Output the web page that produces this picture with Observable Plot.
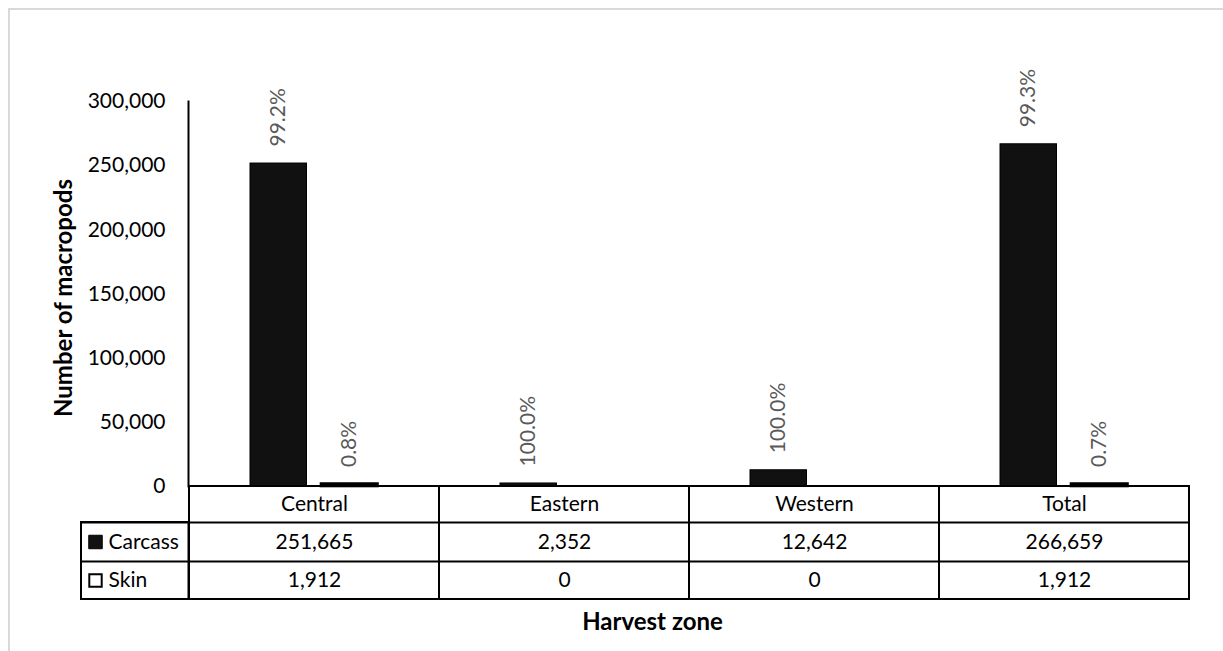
<!DOCTYPE html>
<html>
<head>
<meta charset="utf-8">
<script src="https://cdn.jsdelivr.net/npm/d3@7"></script>
<script src="https://cdn.jsdelivr.net/npm/@observablehq/plot@0.6"></script>
<style>
  html, body { margin: 0; padding: 0; background: white; overflow: hidden; width: 1223px; height: 651px; }
  #wrap { position: relative; width: 1223px; height: 651px; }
  #border { position: absolute; left: 8px; top: 8px; width: 1400px; height: 800px; border: 2px solid #d9d9d9; pointer-events: none; z-index: 2; }
  #chart { position: absolute; left: 0; top: 0; z-index: 1; }
</style>
</head>
<body>
<div id="wrap"><div id="border"></div><div id="chart"></div></div>
<script>
// ---- data ----
const zones = ["Central", "Eastern", "Western", "Total"];
const carcass = [251665, 2352, 12642, 266659];
const skin = [1912, 0, 0, 1912];
const carcassPct = ["99.2%", "100.0%", "100.0%", "99.3%"];
const skinPct = ["0.8%", "", "", "0.7%"];
const yTicks = [0, 50000, 100000, 150000, 200000, 250000, 300000];
const seriesNames = ["Carcass", "Skin"];

const rows = zones.map((z, i) => ({zone: z, carcass: carcass[i], skin: skin[i], cp: carcassPct[i], sp: skinPct[i]}));
const fmt = d3.format(",");
const FONT = "Lato";
const FS = 21;

const chart = Plot.plot({
  width: 1223,
  height: 651,
  marginLeft: 188,
  marginRight: 33,
  marginTop: 101,
  marginBottom: 165,
  style: {background: "transparent", fontFamily: FONT, color: "black"},
  x: {type: "band", domain: zones, padding: 0, axis: null},
  y: {domain: [0, 300000], axis: null},
  marks: [
    // y axis
    Plot.axisY({ticks: yTicks, tickFormat: fmt, tickSize: 0, tickPadding: 23, fontSize: FS, label: null, fill: "black"}),
    Plot.frame({anchor: "left", stroke: "black", strokeWidth: 2}),
    // bars
    Plot.barY(rows, {x: "zone", y: "carcass", fill: "#111111", stroke: "black", strokeWidth: 1, insetLeft: 61, insetRight: 132.5}),
    Plot.barY(rows.filter(d => d.skin > 0), {x: "zone", y: "skin", fill: "white", stroke: "black", strokeWidth: 2.6, insetLeft: 132, insetRight: 61.5}),
    // percent labels
    Plot.text(rows, {x: "zone", y: "carcass", text: "cp", rotate: -90, textAnchor: "start", lineAnchor: "middle", dx: -35.75, dy: -17, fill: "#595959", fontSize: FS}),
    Plot.text(rows.filter(d => d.sp), {x: "zone", y: "skin", text: "sp", rotate: -90, textAnchor: "start", lineAnchor: "middle", dx: 35.25, dy: -17, fill: "#595959", fontSize: FS}),
    // data table cells
    Plot.barY(zones, {x: d => d, y1: 0, y2: 0, insetBottom: -113, fill: "none", stroke: "black", strokeWidth: 2}),
    Plot.barY([zones[0]], {x: d => d, y1: 0, y2: 0, insetTop: 36, insetBottom: -113, insetLeft: -108, insetRight: 250.5, fill: "none", stroke: "black", strokeWidth: 2}),
    Plot.ruleY([0], {dy: 36, insetLeft: -108, stroke: "black", strokeWidth: 2}),
    Plot.ruleY([0], {dy: 75, insetLeft: -108, stroke: "black", strokeWidth: 2}),
    // table text
    Plot.text(zones, {x: d => d, text: d => d, frameAnchor: "bottom", lineAnchor: "middle", dy: 18, fontSize: FS, fill: "black"}),
    Plot.text(rows, {x: "zone", text: d => fmt(d.carcass), frameAnchor: "bottom", lineAnchor: "middle", dy: 55.5, fontSize: FS, fill: "black"}),
    Plot.text(rows, {x: "zone", text: d => fmt(d.skin), frameAnchor: "bottom", lineAnchor: "middle", dy: 94, fontSize: FS, fill: "black"}),
    // legend keys in table
    Plot.dot([seriesNames[0]], {frameAnchor: "bottom-left", dx: -93, dy: 55.5, symbol: "square", r: 7.6, fill: "#111111", stroke: "black", strokeWidth: 1}),
    Plot.dot([seriesNames[1]], {frameAnchor: "bottom-left", dx: -93, dy: 94, symbol: "square", r: 7.0, fill: "white", stroke: "black", strokeWidth: 2}),
    Plot.text([seriesNames[0]], {text: d => d, frameAnchor: "bottom-left", dx: -80, dy: 55.5, textAnchor: "start", lineAnchor: "middle", fontSize: FS, fill: "black"}),
    Plot.text([seriesNames[1]], {text: d => d, frameAnchor: "bottom-left", dx: -80, dy: 94, textAnchor: "start", lineAnchor: "middle", fontSize: FS, fill: "black"}),
    // axis titles
    Plot.text(["Number of macropods"], {text: d => d, frameAnchor: "left", dx: -124, dy: 4, rotate: -90, textAnchor: "middle", lineAnchor: "middle", fontWeight: "bold", fontSize: 24, fill: "black"}),
    Plot.text(["Harvest zone"], {text: d => d, frameAnchor: "bottom-left", dx: 464, dy: 136, textAnchor: "middle", lineAnchor: "middle", fontWeight: "bold", fontSize: 24, fill: "black"})
  ]
});
document.getElementById("chart").appendChild(chart);
</script>
</body>
</html>
